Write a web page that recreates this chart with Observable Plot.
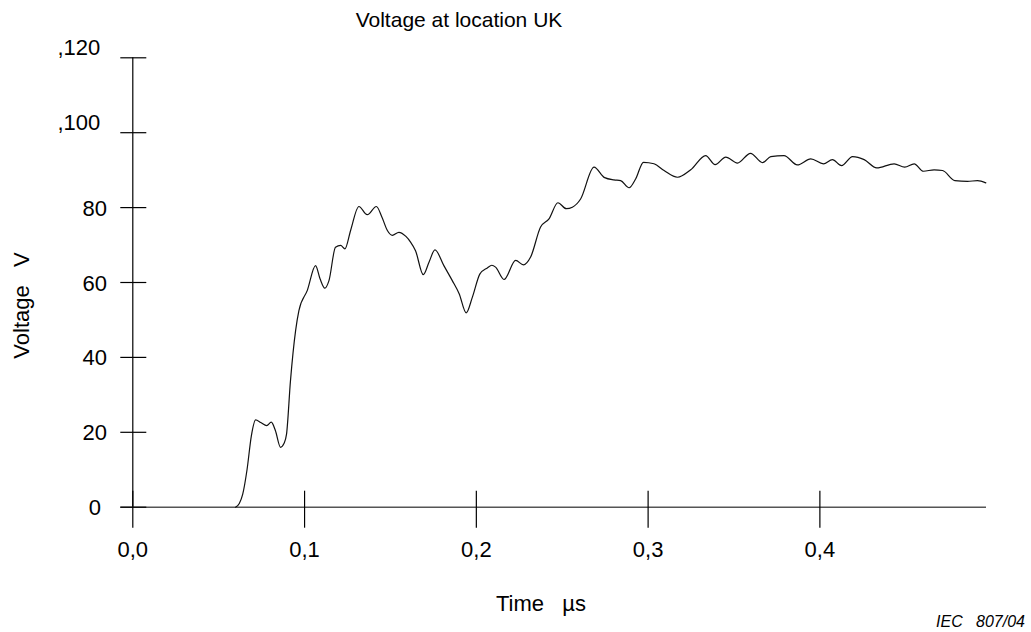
<!DOCTYPE html>
<html>
<head>
<meta charset="utf-8">
<script src="https://cdn.jsdelivr.net/npm/d3@7"></script>
<script src="https://cdn.jsdelivr.net/npm/@observablehq/plot@0.6"></script>
<style>
  html, body { margin: 0; padding: 0; background: #fff; }
  #chart { width: 1031px; height: 632px; }
</style>
</head>
<body>
<div id="chart"></div>
<script>
// Data
const time = [0.0598,0.0620,0.0640,0.0665,0.0690,0.0715,0.0745,0.0780,0.0806,0.0830,0.0860,0.0880,0.0895,0.0918,0.0948,0.0967,0.1016,0.1064,0.1090,0.1118,0.1142,0.1180,0.1210,0.1235,0.1268,0.1316,0.1365,0.1418,0.1450,0.1482,0.1511,0.1549,0.1590,0.1617,0.1646,0.1691,0.1725,0.1759,0.1811,0.1860,0.1900,0.1941,0.1977,0.2021,0.2064,0.2090,0.2112,0.2161,0.2229,0.2274,0.2316,0.2374,0.2423,0.2475,0.2524,0.2559,0.2607,0.2685,0.2747,0.2801,0.2840,0.2889,0.2928,0.2973,0.3034,0.3093,0.3171,0.3248,0.3335,0.3390,0.3452,0.3520,0.3596,0.3666,0.3714,0.3791,0.3869,0.3947,0.4021,0.4073,0.4126,0.4190,0.4258,0.4331,0.4432,0.4494,0.4549,0.4603,0.4665,0.4714,0.4786,0.4859,0.4918,0.4966];
const voltage = [0,1.0,3.5,10,19,23.3,22.6,21.8,22.7,20.5,16.0,17.0,19.5,33.8,47.2,52.5,57.9,64.5,61,58.5,60.5,69.4,69.9,69.0,73.9,80.3,78.1,80.3,77.5,73.9,72.6,73.4,72.3,70.8,68.5,62.1,65.5,68.7,64.5,60.5,57,51.9,56.1,62.3,63.9,64.6,64.1,60.8,65.9,64.7,66.8,74.8,77.0,81.3,79.7,80.1,82.3,90.8,88.0,87.4,87.2,85.3,87.7,92.1,91.7,89.9,88.1,90.1,93.9,91.5,93.5,91.9,94.5,92.0,93.6,93.9,91.4,93.0,91.7,92.8,91.2,93.6,92.8,90.6,91.7,90.8,91.7,89.7,90.1,89.9,87.2,87.0,87.2,86.6];

const xTicks = [0, 0.1, 0.2, 0.3, 0.4];
const xTickLabels = ["0,0", "0,1", "0,2", "0,3", "0,4"];
const yTicksLow = [0, 20, 40, 60, 80];
const yTickLabelsLow = ["0", "20", "40", "60", "80"];
const yTicksHigh = [100, 120];
const yTickLabelsHigh = [",100", ",120"];

const titleText = "Voltage at location UK";
const xTitle = "Time\u00a0\u00a0\u00a0µs";
const yTitle = "Voltage\u00a0\u00a0\u00a0V";
const sourceText = "IEC\u00a0\u00a0\u00a0807/04";

const data = time.map((t, i) => ({t, v: voltage[i]}));

const W = 1031, H = 632;
const plot = Plot.plot({
  width: W,
  height: H,
  marginLeft: 132.3,
  marginRight: 45,
  marginTop: 57.3,
  marginBottom: 125.3,
  style: {fontFamily: "'Liberation Sans', Arial, sans-serif", fontSize: "22px", background: "#fff", color: "#000"},
  x: {domain: [0, 0.497], axis: null},
  y: {domain: [0, 120], axis: null},
  marks: [
    // x axis baseline
    Plot.ruleY([0], {stroke: "#555", strokeWidth: 1.6, insetLeft: -12}),
    // y axis line
    Plot.ruleX([0], {y1: 0, y2: 120, stroke: "#000", strokeWidth: 1.2}),
    // y ticks crossing the axis
    Plot.ruleY([...yTicksLow, ...yTicksHigh], {x1: 0, x2: 0, insetLeft: -12, insetRight: -14, stroke: "#000", strokeWidth: 1.2}),
    // x ticks crossing the axis
    Plot.ruleX(xTicks, {y1: 0, y2: 0, insetTop: -16, insetBottom: -21, stroke: "#000", strokeWidth: 1.2}),
    // tick labels
    Plot.text(xTicks, {x: d => d, frameAnchor: "bottom", lineAnchor: "bottom", dy: 50, text: (d, i) => xTickLabels[i], fill: "#000"}),
    Plot.text(yTicksLow, {y: d => d, frameAnchor: "left", lineAnchor: "bottom", dx: -38, dy: 8, textAnchor: "middle", text: (d, i) => yTickLabelsLow[i], fill: "#000"}),
    Plot.text(yTicksHigh, {y: d => d, frameAnchor: "left", lineAnchor: "bottom", dx: -54, dy: -2.5, textAnchor: "middle", text: (d, i) => yTickLabelsHigh[i], fill: "#000"}),
    // data line
    Plot.line(data, {x: "t", y: "v", curve: "monotone-x", stroke: "#111", strokeWidth: 1.2})
  ]
});
document.getElementById("chart").appendChild(plot);

// Titles (real text)
const svg = d3.select(plot);
svg.append("text").attr("x", 459).attr("y", 27.3).attr("text-anchor", "middle")
  .style("font-size", "21px").attr("fill", "#000").text(titleText);
svg.append("text").attr("x", 541).attr("y", 611).attr("text-anchor", "middle")
  .style("font-size", "22px").attr("fill", "#000").text(xTitle);
svg.append("text").attr("transform", "translate(28.8,305.5) rotate(-90)").attr("text-anchor", "middle")
  .style("font-size", "22px").attr("fill", "#000").text(yTitle);
svg.append("text").attr("x", 1025).attr("y", 626.7).attr("text-anchor", "end")
  .style("font-size", "16px").style("font-style", "italic").attr("fill", "#000").text(sourceText);
</script>
</body>
</html>
